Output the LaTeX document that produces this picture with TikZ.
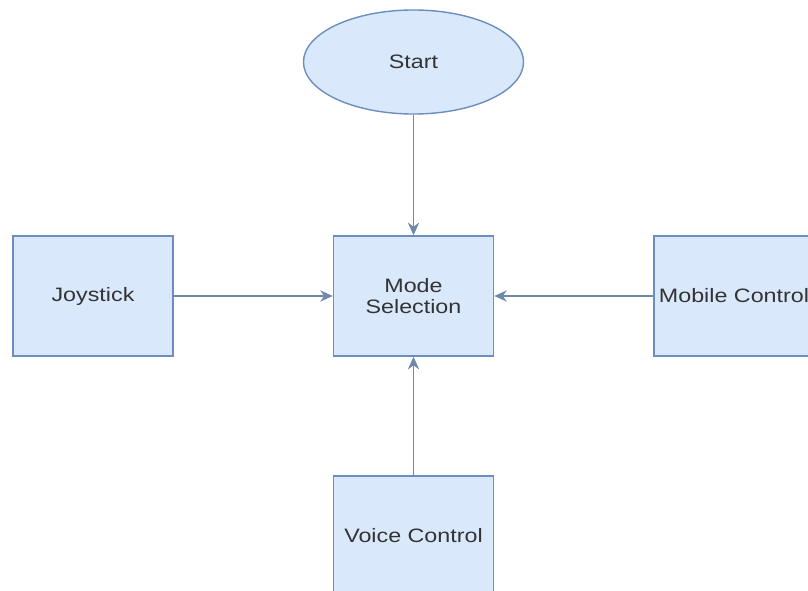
\documentclass[tikz,border=0pt]{standalone}
\usepackage{fontspec}
\usepackage{tikz}
\usepackage{xcolor}
\usetikzlibrary{shapes.geometric,arrows.meta}

\newfontfamily\boxfont[FakeStretch=1.2]{Liberation Sans}

\definecolor{boxfill}{HTML}{DAE8FC}
\definecolor{boxline}{HTML}{6C8EBF}
\definecolor{flowline}{HTML}{6F88AC}
\definecolor{boxtext}{HTML}{333333}

\tikzset{
    modebox/.style={
        draw=boxline,
        fill=boxfill,
        line width=1pt,
        minimum width=4cm,
        minimum height=3cm,
        align=center,
        text=boxtext,
        font=\boxfont\fontsize{13.8}{15}\selectfont
    },
    startnode/.style={
        modebox,
        ellipse,
        minimum width=5.5cm,
        minimum height=2.6cm
    },
    flow/.style={
        draw=flowline,
        line width=1pt,
        -{Stealth[length=9pt,width=8pt]}
    }
}

\begin{document}
\begin{tikzpicture}[x=0.025cm,y=-0.025cm]

    %------------------------------------------------
    % Frame
    %------------------------------------------------

    \useasboundingbox (0,0) rectangle (808,591);
    \clip (0,0) rectangle (808,591);

    %------------------------------------------------
    % Nodes
    %------------------------------------------------

    \node[startnode] (start) at (413.5,62) {Start};

    \node[modebox] (mode) at (413.5,296) {Mode\\Selection};

    \node[modebox] (joystick) at (93,296) {Joystick};

    \node[modebox] (mobile) at (734,296) {Mobile Control};

    \node[modebox] (voice) at (413.5,536) {Voice Control};

    %------------------------------------------------
    % Connectors
    %------------------------------------------------

    \draw[flow] (start) -- (mode);
    \draw[flow] (joystick) -- (mode);
    \draw[flow] (mobile) -- (mode);
    \draw[flow] (voice) -- (mode);

\end{tikzpicture}
\end{document}
